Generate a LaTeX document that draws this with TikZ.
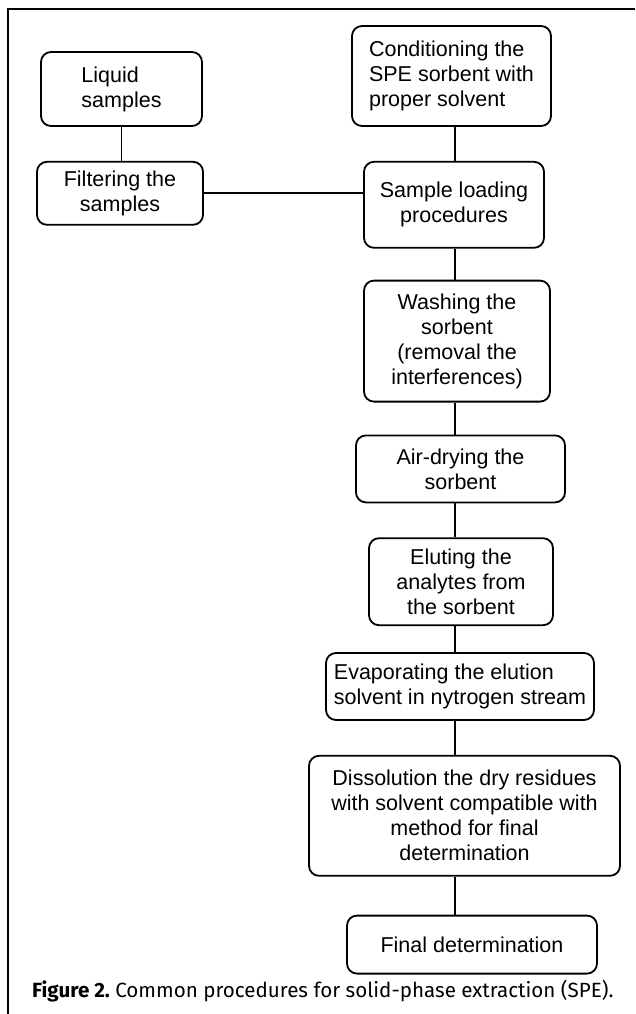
\documentclass[tikz,border=0pt]{standalone}
\usepackage{fontspec}
\setmainfont{Liberation Sans}
\newfontfamily\captionfont{Fira Sans}
\usetikzlibrary{positioning}

\tikzset{
  procbox/.style={draw, rounded corners=10pt, line width=1.8pt,
    align=center, inner sep=2pt, font=\fontsize{21.5}{25}\selectfont},
  link/.style={line width=1.7pt}
}

\begin{document}
\begin{tikzpicture}[x=1pt,y=1pt]
      \useasboundingbox (0,0) rectangle (635,-1014);
      % Frame of the figure
      \draw[line width=1.6pt] (8,-1014) -- (8,-9) -- (635,-9);
      % Add the steps
      \node[procbox,
        align=left,
        minimum width=161pt,
        minimum height=74pt] (liquid) at (121.5,-89) {Liquid\\samples};
      \node[procbox,
        below=34pt of liquid,
        xshift=-1.5pt,
        minimum width=166pt,
        minimum height=63pt] (filter) {Filtering the\\samples};
      \node[procbox,
        align=left,
        minimum width=199pt,
        minimum height=100pt] (cond) at (451.5,-76) {Conditioning the\\SPE sorbent with\\proper solvent};
      \node[procbox,
        below=34pt of cond,
        xshift=2.5pt,
        minimum width=180pt,
        minimum height=86pt] (load) {Sample loading\\procedures};
      \node[procbox,
        below=31pt of load,
        xshift=3pt,
        minimum width=186pt,
        minimum height=121pt] (wash) {Washing the\\sorbent\\(removal the\\interferences)};
      \node[procbox,
        below=32pt of wash,
        xshift=3.5pt,
        minimum width=209pt,
        minimum height=67pt] (air) {Air-drying the\\sorbent};
      \node[procbox,
        below=34pt of air,
        xshift=0.5pt,
        minimum width=184pt,
        minimum height=87pt] (elute) {Eluting the\\analytes from\\the sorbent};
      \node[procbox,
        align=left,
        below=26pt of elute,
        xshift=-1pt,
        minimum width=268pt,
        minimum height=67pt] (evap) {Evaporating the elution\\solvent in nytrogen stream};
      \node[procbox,
        below=34pt of evap,
        xshift=4.5pt,
        minimum width=311pt,
        minimum height=120pt] (dissol) {Dissolution the dry residues\\with solvent compatible with\\method for final\\determination};
      \node[procbox,
        below=38pt of dissol,
        xshift=7.5pt,
        minimum width=250pt,
        minimum height=58pt] (final) {Final determination};
      \node[anchor=base west,
        inner sep=0pt,
        font=\captionfont\fontsize{20.6}{24}\selectfont] (caption) at (32,-997)
        {\textbf{Figure 2.}\ Common procedures for solid-phase extraction (SPE).};
      % Connect the steps
      \coordinate (spine) at (455,0);
      \draw[link] (liquid.south) -- (liquid.south |- filter.north);
      \draw[link] (filter.east) -- (filter.east -| load.west);
      \foreach \a/\b in {cond/load, load/wash, wash/air, air/elute,
                         elute/evap, evap/dissol, dissol/final}
        \draw[link] (\a.south -| spine) -- (\b.north -| spine);
\end{tikzpicture}
\end{document}
